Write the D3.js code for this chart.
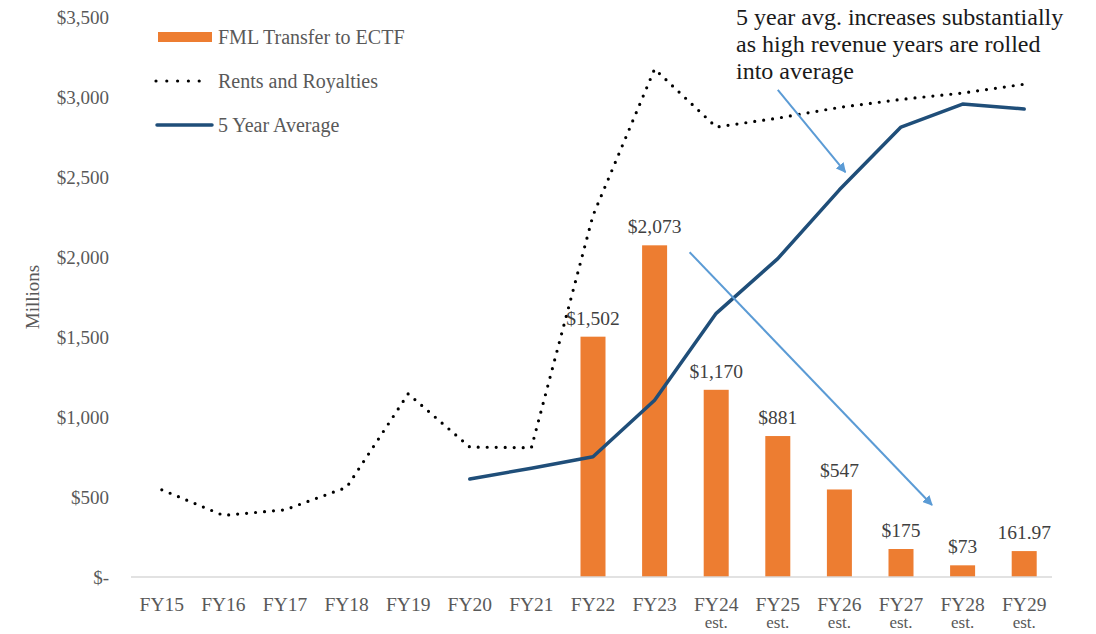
<!DOCTYPE html>
<html lang="en">
<head>
  <meta charset="utf-8">
  <title>FML Transfer to ECTF</title>
  <script src="https://d3js.org/d3.v7.min.js"></script>
  <style>
    body { margin: 0; background: #fff; }
  </style>
</head>
<body>
<div id="my_dataviz"></div>

<script>
// categories (second line of the tick label)
const years = ["FY15","FY16","FY17","FY18","FY19","FY20","FY21","FY22","FY23","FY24","FY25","FY26","FY27","FY28","FY29"];
const yearNotes = ["","","","","","","","","","est.","est.","est.","est.","est.","est."];

// FML Transfer to ECTF (bars), null = no bar
const transfers = [null,null,null,null,null,null,null,1502,2073,1170,881,547,175,73,161.97];
const transferLabels = ["","","","","","","","$1,502","$2,073","$1,170","$881","$547","$175","$73","161.97"];

// Rents and Royalties (dotted line)
const rents = [545,385,420,560,1145,812,808,2260,3175,2812,2868,2935,2985,3025,3080];

// 5 Year Average (solid line)
const avg5 = [null,null,null,null,null,612,680,752,1105,1648,1990,2420,2812,2956,2925];

const yTicks = [0,500,1000,1500,2000,2500,3000,3500];

const W = 1096, H = 634;
const svg = d3.select("#my_dataviz")
  .append("svg")
    .attr("width", W)
    .attr("height", H);

const x = d3.scaleBand()
  .domain(years)
  .range([131, 1055]);

const y = d3.scaleLinear()
  .domain([0, 3500])
  .range([577, 17]);

const cx = i => x(years[i]) + x.bandwidth() / 2;

// y axis labels (no line, no gridlines)
svg.append("g")
  .selectAll("text")
  .data(yTicks)
  .join("text")
    .attr("x", 109)
    .attr("y", d => y(d))
    .attr("dy", "0.35em")
    .attr("text-anchor", "end")
    .attr("font-size", 19)
    .attr("fill", "#595959")
    .text(d => d === 0 ? "$-" : "$" + d3.format(",")(d));

svg.append("text")
  .attr("transform", `translate(39,${y(1750)}) rotate(-90)`)
  .attr("text-anchor", "middle")
  .attr("font-size", 19)
  .attr("fill", "#595959")
  .text("Millions");

// bars
const barW = 25;
svg.append("g")
  .selectAll("rect")
  .data(transfers.map((v, i) => ({v, i})).filter(d => d.v !== null))
  .join("rect")
    .attr("x", d => cx(d.i) - barW / 2)
    .attr("y", d => y(d.v))
    .attr("width", barW)
    .attr("height", d => y(0) - y(d.v))
    .attr("fill", "#ED7D31");

// bar labels
svg.append("g")
  .selectAll("text")
  .data(transfers.map((v, i) => ({v, i})).filter(d => d.v !== null))
  .join("text")
    .attr("x", d => cx(d.i))
    .attr("y", d => y(d.v) - 12)
    .attr("text-anchor", "middle")
    .attr("font-size", 19.5)
    .attr("fill", "#404040")
    .text(d => transferLabels[d.i]);

// x axis line
svg.append("line")
  .attr("x1", x.range()[0]).attr("x2", x.range()[1] - 3)
  .attr("y1", y(0)).attr("y2", y(0))
  .attr("stroke", "#d9d9d9")
  .attr("stroke-width", 1.5);

// x labels
const xl = svg.append("g")
  .selectAll("g")
  .data(years)
  .join("g")
    .attr("transform", (d, i) => `translate(${cx(i)},0)`);
xl.append("text")
  .attr("y", 611)
  .attr("text-anchor", "middle")
  .attr("font-size", 19.5)
  .attr("fill", "#595959")
  .text(d => d);
xl.append("text")
  .attr("y", 628)
  .attr("text-anchor", "middle")
  .attr("font-size", 17)
  .attr("fill", "#595959")
  .text((d, i) => yearNotes[i]);

// rents and royalties
const line = d3.line()
  .defined(d => d.v !== null)
  .x(d => cx(d.i))
  .y(d => y(d.v));

svg.append("path")
  .datum(rents.map((v, i) => ({v, i})))
  .attr("d", line)
  .attr("fill", "none")
  .attr("stroke", "#000")
  .attr("stroke-width", 3.2)
  .attr("stroke-linecap", "round")
  .attr("stroke-linejoin", "round")
  .attr("stroke-dasharray", "0 9");

// 5 year average
svg.append("path")
  .datum(avg5.map((v, i) => ({v, i})).filter(d => d.v !== null))
  .attr("d", line)
  .attr("fill", "none")
  .attr("stroke", "#1F4E79")
  .attr("stroke-width", 3.5)
  .attr("stroke-linecap", "round")
  .attr("stroke-linejoin", "round");

// legend
const lg = svg.append("g");
lg.append("rect")
  .attr("x", 158).attr("y", 32).attr("width", 54).attr("height", 10)
  .attr("fill", "#ED7D31");
lg.append("text")
  .attr("x", 218).attr("y", 37).attr("dy", "0.35em")
  .attr("font-size", 20).attr("fill", "#595959")
  .text("FML Transfer to ECTF");
lg.append("line")
  .attr("x1", 156).attr("x2", 210).attr("y1", 81).attr("y2", 81)
  .attr("stroke", "#000").attr("stroke-width", 3.2)
  .attr("stroke-linecap", "round").attr("stroke-dasharray", "0 10.8");
lg.append("text")
  .attr("x", 218).attr("y", 81).attr("dy", "0.35em")
  .attr("font-size", 20).attr("fill", "#595959")
  .text("Rents and Royalties");
lg.append("line")
  .attr("x1", 157).attr("x2", 212).attr("y1", 125).attr("y2", 125)
  .attr("stroke", "#1F4E79").attr("stroke-width", 3.5)
  .attr("stroke-linecap", "round");
lg.append("text")
  .attr("x", 218).attr("y", 125).attr("dy", "0.35em")
  .attr("font-size", 20).attr("fill", "#595959")
  .text("5 Year Average");

// annotation
const note = ["5 year avg. increases substantially", "as high revenue years are rolled", "into average"];
svg.append("g")
  .selectAll("text")
  .data(note)
  .join("text")
    .attr("x", 736)
    .attr("y", (d, i) => 25 + i * 27)
    .attr("font-size", 24)
    .attr("fill", "#1a1a1a")
    .text(d => d);

svg.append("defs").append("marker")
  .attr("id", "arr")
  .attr("viewBox", "0 0 10 10")
  .attr("refX", 9).attr("refY", 5)
  .attr("markerWidth", 5).attr("markerHeight", 5)
  .attr("orient", "auto")
  .append("path")
    .attr("d", "M0,0 L10,5 L0,10 z")
    .attr("fill", "#5B9BD5");

const arrows = [
  {x1: cx(10), v1: 3045, x2: cx(11) + 6, v2: 2530},
  {x1: cx(8) + 35, v1: 2030, x2: cx(12) + 31, v2: 450}
];
svg.append("g")
  .selectAll("line")
  .data(arrows)
  .join("line")
    .attr("x1", d => d.x1).attr("y1", d => y(d.v1))
    .attr("x2", d => d.x2).attr("y2", d => y(d.v2))
    .attr("stroke", "#5B9BD5")
    .attr("stroke-width", 2)
    .attr("marker-end", "url(#arr)");

// serif face on every label
svg.selectAll("text").attr("font-family", "Liberation Serif");
</script>
</body>
</html>
